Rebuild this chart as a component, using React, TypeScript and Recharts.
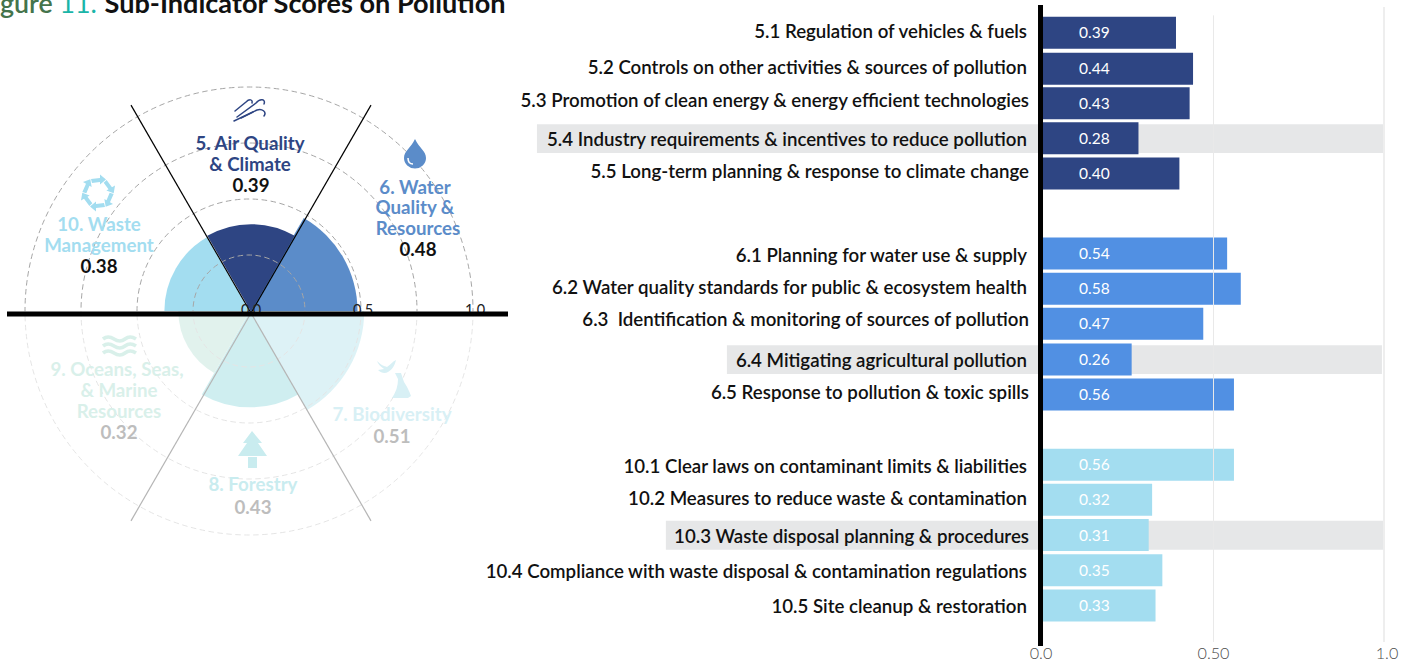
import React from "react";
import {
  PieChart, Pie, PolarGrid,
  BarChart, Bar, XAxis, YAxis, Cell, LabelList, ReferenceArea, ReferenceLine,
} from "recharts";

const FONT = "Lato, sans-serif";

// ---------- left: polar sectors ----------
const sectorNames = ["7. Biodiversity", "8. Forestry", "9. Oceans, Seas, & Marine Resources", "10. Waste Management", "6. Water Quality & Resources", "5. Air Quality & Climate"];
const sectorScores = [0.51, 0.43, 0.32, 0.38, 0.48, 0.39];
const sectorStart = [0, -60, -120, 180, 60, 120];
const sectorEnd = [-60, -120, -180, 120, 0, 60];
const sectorFills = ["#8dd4e0", "#5fc6ce", "#9bd4c3", "#a3ddf0", "#5b8cc9", "#2e4583"];
const sectorCx = [250, 250, 250, 249.5, 250, 251];
const sectorCy = [311, 311, 311, 311, 311, 311.5];
const ringValues = [0.25, 0.5, 0.75, 1];
const scaleValues = [0, 0.5, 1];
const upperSeparators = [60, 120];
const lowerSeparators = [-60, -120];

const R = 224;
const CX = 249;
const CY = 311;

// ---------- right: bars ----------
const rowLabels = [
  "5.1 Regulation of vehicles & fuels",
  "5.2 Controls on other activities & sources of pollution",
  "5.3 Promotion of clean energy & energy efficient technologies",
  "5.4 Industry requirements & incentives to reduce pollution",
  "5.5 Long-term planning & response to climate change",
  "6.1 Planning for water use & supply",
  "6.2 Water quality standards for public & ecosystem health",
  "6.3  Identification & monitoring of sources of pollution",
  "6.4 Mitigating agricultural pollution",
  "6.5 Response to pollution & toxic spills",
  "10.1 Clear laws on contaminant limits & liabilities",
  "10.2 Measures to reduce waste & contamination",
  "10.3 Waste disposal planning & procedures",
  "10.4 Compliance with waste disposal & contamination regulations",
  "10.5 Site cleanup & restoration",
];
const rowValues = [0.39, 0.44, 0.43, 0.28, 0.40, 0.54, 0.58, 0.47, 0.26, 0.56, 0.56, 0.32, 0.31, 0.35, 0.33];
const rowSlots = [0, 1.02, 2, 3, 4, 6.27, 7.27, 8.27, 9.28, 10.28, 12.27, 13.27, 14.27, 15.27, 16.27];
const rowFills = [
  "#2e4583", "#2e4583", "#2e4583", "#2e4583", "#2e4583",
  "#5190e3", "#5190e3", "#5190e3", "#5190e3", "#5190e3",
  "#a3ddf0", "#a3ddf0", "#a3ddf0", "#a3ddf0", "#a3ddf0",
];
const labelNudgeY = [-1, -1, -2, 1, -2, 2, -1, -4, 1, -2, 2, -1, 2, 2, 1];
const labelNudgeX = [0, 0, 2, 0, 2, 0, 0, 2, 0, 2, 0, 0, 2, 0, 0];
const xTickValues = [0, 0.5, 1];
const xTickLabels = ["0.0", "0.50", "1.0"];
const highlightBands = [
  { slot: 3, from: -1.484, to: 0.997 },
  { slot: 9.28, from: -0.927, to: 0.994 },
  { slot: 14.27, from: -1.106, to: 0.997 },
];

const rows = rowLabels.map((label, i) => ({ label, value: rowValues[i], slot: rowSlots[i] }));

const layer: React.CSSProperties = { position: "absolute", left: 0, top: 0 };
const noMargin = { top: 0, right: 0, bottom: 0, left: 0 };
const W = 520;
const H = 560;

function RowTick(props: any) {
  const { x, y, payload } = props;
  const i = rowSlots.indexOf(payload.value);
  return (
    <text x={x + labelNudgeX[i]} y={y + labelNudgeY[i] + 6} textAnchor="end" fontFamily={FONT} fontWeight={600} fontSize={18.68} fill="#111" style={{ whiteSpace: "pre" }}>
      {rowLabels[i]}
    </text>
  );
}

function XTick(props: any) {
  const { x, y, payload } = props;
  const i = xTickValues.indexOf(payload.value);
  return (
    <text x={x + (i === 0 ? -2 : i === 2 ? 3 : 0)} y={y + 5} textAnchor="middle" fontFamily={FONT} fontWeight={300} fontSize={16.2} fill="#4d4d4d">
      {xTickLabels[i]}
    </text>
  );
}

const T = ({ x, y, fill, children, weight = 700, size = 18.7 }: any) => (
  <text x={x} y={y} textAnchor="middle" fontFamily={FONT} fontWeight={weight} fontSize={size} fill={fill}>{children}</text>
);

function RecycleIcon({ x, y, c }: any) {
  return (
    <g transform={`translate(${x} ${y})`}>
      {[0, 60, 120, 180, 240, 300].map((a) => (
        <g key={a} transform={`rotate(${a})`}>
          <path d="M-7 -14 L2 -15 L2 -18.5 L8 -13.5 L2 -8.5 L2 -11 L-6 -10 Z" fill={c} />
        </g>
      ))}
    </g>
  );
}

function LeftLabels() {
  const air = "#2e4583", water = "#5b8cc9", waste = "#a3ddf0", ocean = "#d9f0ea", bio = "#d8f0f5", forest = "#c9ecef";
  return (
    <svg width={1414} height={662} style={layer}>
      <text x={0} y={13} fontFamily={FONT} fontWeight={600} fontSize={26.8} fill="#111">
        <tspan fill="#44744c">gure</tspan> <tspan fill="#1ab5a8" fontWeight={400}>11.</tspan>{" "}
        <tspan fontWeight={700} fontSize={27.1} dx={1}>Sub-Indicator Scores on Pollution</tspan>
      </text>

      <T x={250} y={150} fill={air}>5. Air Quality</T>
      <T x={250} y={171} fill={air}>&amp; Climate</T>
      <T x={251} y={192} fill="#111">{sectorScores[5].toFixed(2)}</T>

      <T x={415} y={194} fill={water}>6. Water</T>
      <T x={415} y={214} fill={water}>Quality &amp;</T>
      <T x={418} y={235} fill={water}>Resources</T>
      <T x={418} y={256} fill="#111">{sectorScores[4].toFixed(2)}</T>

      <T x={99} y={231} fill={waste}>10. Waste</T>
      <T x={99} y={252} fill={waste}>Management</T>
      <T x={99} y={273} fill="#111">{sectorScores[3].toFixed(2)}</T>

      <T x={117} y={376} fill={ocean}>9. Oceans, Seas,</T>
      <T x={119} y={397} fill={ocean}>&amp; Marine</T>
      <T x={119} y={418} fill={ocean}>Resources</T>
      <T x={119} y={439} fill="#bdbdbd">{sectorScores[2].toFixed(2)}</T>

      <T x={392} y={421} fill={bio}>7. Biodiversity</T>
      <T x={392} y={443} fill="#bdbdbd">{sectorScores[0].toFixed(2)}</T>

      <T x={253} y={491} fill={forest}>8. Forestry</T>
      <T x={253} y={514} fill="#bdbdbd">{sectorScores[1].toFixed(2)}</T>

      {/* wind */}
      <g fill="none" stroke={air} strokeWidth={1.5} strokeLinecap="round">
        <path d="M235 111 L246 102 C249 99 253 99 252 103" />
        <path d="M237 117 L256 103 C260 98 266 99 264 104" />
        <path d="M234 121 L257 110 C262 108 267 112 264 116" />
        <path d="M241 118 L253 112" />
      </g>
      {/* drop */}
      <path d="M415 139 C419 148 426 151 426 158 A11 10.5 0 0 1 404 158 C404 151 411 148 415 139 Z" fill={water} />
      <path d="M408 158 C408 162 410 164 413 164" stroke="#fff" strokeWidth={1.5} fill="none" />
      <RecycleIcon x={98} y={193} c={waste} />
      {/* waves */}
      <g fill="none" stroke={ocean} strokeWidth={3.6}>
        <path d="M103 339 q5 -4 11 0 t11 0 t11 0" />
        <path d="M103 346 q5 -4 11 0 t11 0 t11 0" />
        <path d="M103 353 q5 -4 11 0 t11 0 t11 0" />
      </g>
      {/* bird & dog */}
      <path d="M377 361 C381 365 384 366 387 367 C390 365 393 361 396 360 C395 365 392 370 388 372 C385 374 381 373 378 370 L384 369 C381 367 378 364 377 361 Z" fill={bio} />
      <path d="M395 373 L401 373 L404 382 C408 388 410 393 411 396 L408 398 L392 398 C396 392 398 386 398 379 Z" fill={bio} />
      {/* tree */}
      <path d="M252 431 L262 443 L258 443 L267 456 L238 456 L247 443 L243 443 Z" fill={forest} />
      <rect x={248} y={457} width={9} height={11} fill={forest} />

      {/* polar scale */}
      {scaleValues.map((v) => (
        <text key={v} x={CX + 2 + v * R} y={315} textAnchor="middle" fontFamily={FONT} fontSize={14.5} fill="#222">{v.toFixed(1)}</text>
      ))}
      <rect x={7} y={311.5} width={501} height={5} fill="#000" />
    </svg>
  );
}

export default function App() {
  const yDomain: [number, number] = [-0.795, 17.415];
  return (
    <div style={{ position: "absolute", left: 0, top: 0, width: 1414, height: 662, overflow: "hidden", background: "#fff" }}>
      {/* sectors */}
      <div style={layer}>
        <PieChart width={W} height={H} margin={noMargin}>
          {sectorScores.map((s, i) => (
            <Pie
              key={sectorNames[i]}
              data={[{ name: sectorNames[i], value: s }]}
              dataKey="value"
              cx={sectorCx[i]}
              cy={sectorCy[i]}
              innerRadius={0}
              outerRadius={s * R}
              startAngle={sectorStart[i]}
              endAngle={sectorEnd[i]}
              fill={sectorFills[i]}
              stroke="none"
              isAnimationActive={false}
            />
          ))}
        </PieChart>
      </div>
      {/* rings */}
      <div style={layer}>
        <PieChart width={W} height={H} margin={noMargin} cx={CX} cy={CY} innerRadius={0} outerRadius={R}>
          <PolarGrid gridType="circle" radialLines={false} polarAngles={[]} polarRadius={ringValues.map((v) => v * R)} stroke="#a6a6a6" strokeDasharray="5.5 3.5" fill="none" />
        </PieChart>
      </div>
      {/* fade of the lower half */}
      <div style={layer}>
        <PieChart width={W} height={H} margin={noMargin}>
          <Pie data={[{ value: 1 }]} dataKey="value" cx={CX} cy={CY} innerRadius={0} outerRadius={R + 20} startAngle={0} endAngle={-180} fill="#fff" fillOpacity={0.7} stroke="none" isAnimationActive={false} />
        </PieChart>
      </div>
      {/* separators */}
      <div style={layer}>
        <PieChart width={W} height={H} margin={noMargin} cx={251} cy={313} innerRadius={0} outerRadius={240}>
          <PolarGrid gridType="circle" polarRadius={[]} polarAngles={upperSeparators} stroke="#000" strokeWidth={1.2} />
          <PolarGrid gridType="circle" polarRadius={[]} polarAngles={lowerSeparators} stroke="#b5b5b5" strokeWidth={1.2} />
        </PieChart>
      </div>
      <LeftLabels />
      {/* bars */}
      <div style={layer}>
        <BarChart width={1414} height={662} data={rows} layout="vertical" margin={{ top: 5, right: 30, bottom: 0, left: 0 }} barSize={32}>
          <XAxis type="number" domain={[0, 1]} ticks={xTickValues} axisLine={false} tickLine={false} height={16} tick={<XTick />} interval={0} />
          <YAxis type="number" dataKey="slot" orientation="left" domain={yDomain} ticks={rowSlots} width={1043} axisLine={false} tickLine={false} tick={<RowTick />} interval={0} tickMargin={10} allowDataOverflow />
          {highlightBands.map((b) => (
            <ReferenceArea key={b.slot} x1={b.from} x2={b.to} y1={b.slot - 0.41} y2={b.slot + 0.41} ifOverflow="visible" fill="#e6e7e8" fillOpacity={1} stroke="none" />
          ))}
          <Bar dataKey="value" isAnimationActive={false}>
            {rows.map((r, i) => (
              <Cell key={r.label} fill={rowFills[i]} />
            ))}
            <LabelList dataKey="value" position="insideLeft" offset={36} fill="#fff" fontFamily={FONT} fontSize={15.5} formatter={(v: any) => Number(v).toFixed(2)} />
          </Bar>
          <ReferenceLine segment={[{ x: 0.5, y: -0.5 }, { x: 0.5, y: 17.3 }]} stroke="#e9e9e9" strokeWidth={1} ifOverflow="visible" />
          <ReferenceLine segment={[{ x: 1, y: -0.74 }, { x: 1, y: 17.3 }]} stroke="#e9e9e9" strokeWidth={1.5} ifOverflow="visible" />
          <ReferenceLine x={-0.0073} stroke="#000" strokeWidth={5} ifOverflow="visible" />
        </BarChart>
      </div>
    </div>
  );
}
